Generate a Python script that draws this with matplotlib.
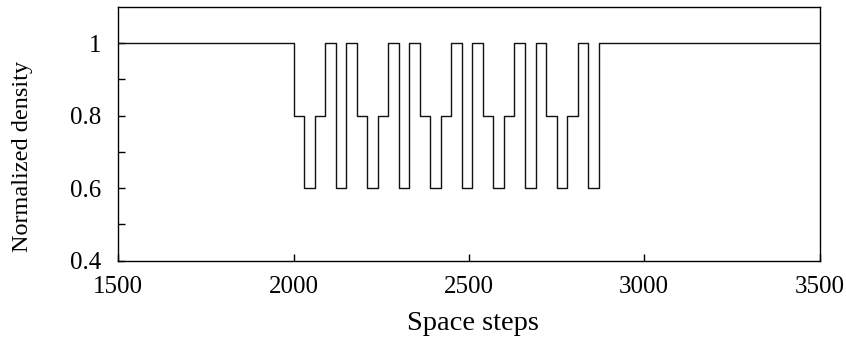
import numpy as np
import matplotlib.pyplot as plt
from matplotlib.ticker import FixedLocator

# transition points (space steps) and density level after each one
x_edges = [1500, 2000, 2030, 2060, 2090, 2120, 2150, 2180, 2210, 2240, 2270,
           2300, 2330, 2360, 2390, 2420, 2450, 2480, 2510, 2540, 2570,
           2600, 2630, 2660, 2690, 2720, 2750, 2780, 2810, 2840, 2870, 3500]
density = [1, 0.8, 0.6, 0.8, 1, 0.6, 1, 0.8, 0.6, 0.8, 1,
           0.6, 1, 0.8, 0.6, 0.8, 1, 0.6, 1, 0.8, 0.6,
           0.8, 1, 0.6, 1, 0.8, 0.6, 0.8, 1, 0.6, 1, 1]

x_ticks = [1500, 2000, 2500, 3000, 3500]
y_ticks = [0.4, 0.6, 0.8, 1.0]
y_tick_labels = ['0.4', '0.6', '0.8', '1']
y_minor = [0.5, 0.7, 0.9]

plt.rcParams['font.family'] = ['Liberation Serif', 'DejaVu Serif']

fig = plt.figure(figsize=(8.46, 3.38), dpi=100)
ax = fig.add_axes([0.1398, 0.2287, 0.8289, 0.7506])

ax.step(x_edges, density, where='post', color='#111111', linewidth=1.0)

ax.set_xlim(1500, 3500)
ax.set_ylim(0.4, 1.1)

ax.set_xticks(x_ticks)
ax.set_xticklabels([str(t) for t in x_ticks])
ax.yaxis.set_major_locator(FixedLocator(y_ticks))
ax.set_yticklabels(y_tick_labels)
ax.yaxis.set_minor_locator(FixedLocator(y_minor))

ax.tick_params(axis='both', which='both', direction='in', length=5, width=1,
               labelsize=18)
ax.tick_params(axis='x', pad=11)
ax.tick_params(axis='y', pad=12)

for s in ax.spines.values():
    s.set_linewidth(1.0)

ax.set_xlabel('Space steps', fontsize=20.5)
ax.set_ylabel('Normalized density', fontsize=17.5)
ax.xaxis.set_label_coords(0.506, -0.2)
ax.yaxis.set_label_coords(-0.122, 0.41)

plt.savefig('out.png', dpi=100)
